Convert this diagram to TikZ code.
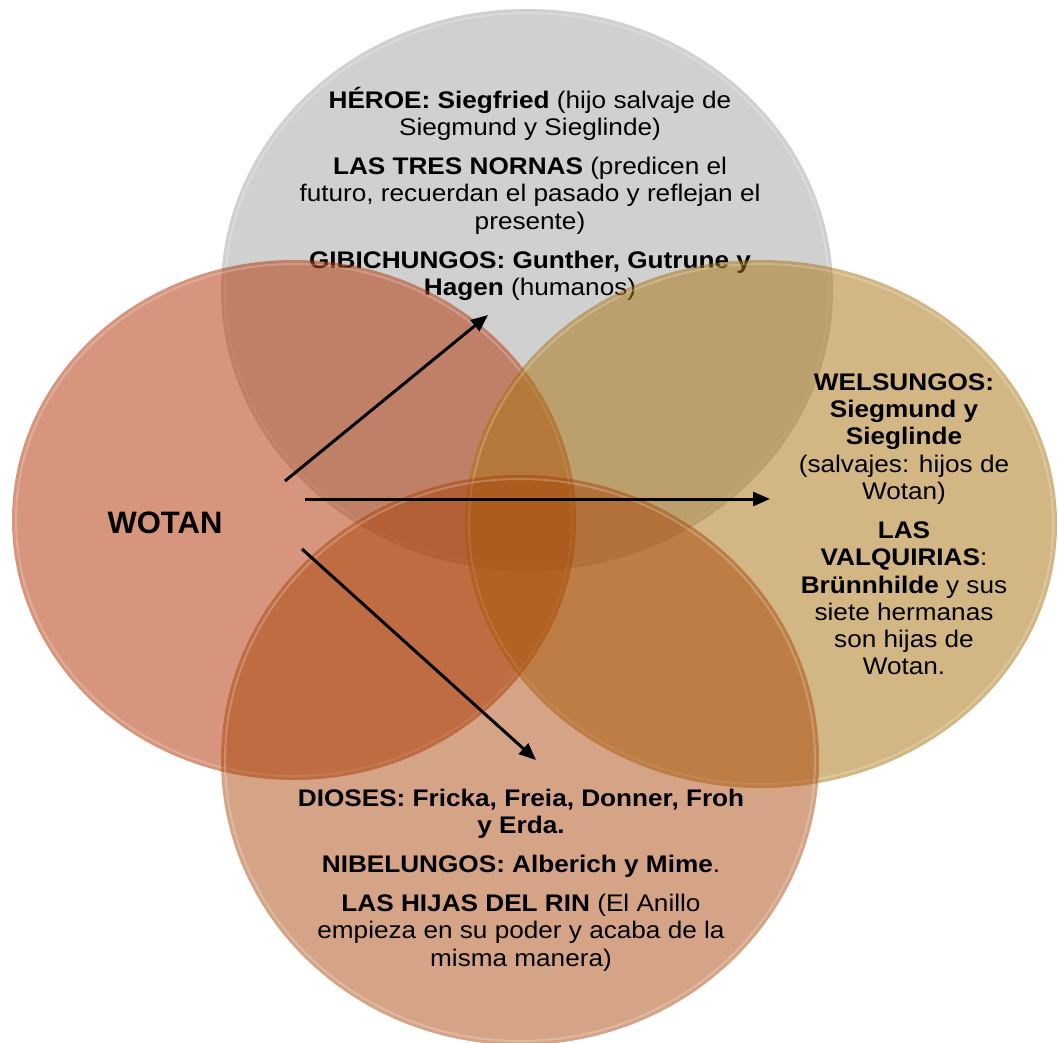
\documentclass[tikz,border=0pt]{standalone}
\usepackage{fontspec}
\setmainfont[FakeStretch=1.09]{Liberation Sans}
\newfontfamily\wotanfont{Liberation Sans}
\usetikzlibrary{arrows.meta}

% fill colours of the four sets (used with transparency)
\definecolor{normasgray}{RGB}{208,208,208}
\definecolor{wotanred}{RGB}{180,62,17}
\definecolor{welsgold}{RGB}{168,115,17}
\definecolor{diosbrown}{RGB}{166,62,0}

\begin{document}
\begin{tikzpicture}[x=1pt,y=-1pt,
  venntext/.style={align=center, inner sep=0pt, anchor=north, text=black,
                   font=\fontsize{24}{27.3}\selectfont},
  rim/.style={draw=white, draw opacity=.22, line width=2pt},
  link/.style={draw=black, line width=3pt, -{Triangle[length=17pt,width=14pt]}}]

\useasboundingbox (0,0) rectangle (1058,1043);

% --- upper set: heroes, norns, Gibichungs
\fill[normasgray] (527,290) ellipse [x radius=306, y radius=281];
\draw[rim] (527,290) ellipse [x radius=302, y radius=277];
\node[venntext] (heroe) at (530,84) {\rule{0pt}{24pt}\textbf{HÉROE: Siegfried} (hijo salvaje de\\
  Siegmund y Sieglinde)\\[11.7pt]
  \textbf{LAS TRES NORNAS} (predicen el\\
  futuro, recuerdan el pasado y reflejan el\\
  presente)\\[11.7pt]
  \textbf{GIBICHUNGOS: Gunther, Gutrune y}\\
  \textbf{Hagen} (humanos)};

% --- left set: Wotan
\fill[wotanred, fill opacity=.55] (294,520) ellipse [x radius=282, y radius=260];
\draw[rim] (294,520) ellipse [x radius=278, y radius=256];
\node[inner sep=0pt, font=\wotanfont\fontsize{31}{34}\selectfont\bfseries] (wotan) at (165,523) {WOTAN};

% --- right set: Volsungs and Valkyries
\fill[welsgold, fill opacity=.52] (761,524) ellipse [x radius=296, y radius=264];
\draw[rim] (761,524) ellipse [x radius=292, y radius=260];
\node[venntext] (welsungos) at (904,366) {\rule{0pt}{24pt}\textbf{WELSUNGOS:}\\
  \textbf{Siegmund y}\\
  \textbf{Sieglinde}\\
  (salvajes: hijos de\\
  Wotan)\\[11.7pt]
  \textbf{LAS}\\
  \textbf{VALQUIRIAS}:\\
  \textbf{Brünnhilde} y sus\\
  siete hermanas\\
  son hijas de\\
  Wotan.};

% --- lower set: gods, Nibelungs, Rhinemaidens
\fill[diosbrown, fill opacity=.47] (520,760) ellipse [x radius=299, y radius=285];
\draw[rim] (520,760) ellipse [x radius=295, y radius=281];
\node[venntext] (dioses) at (521,782) {\rule{0pt}{24pt}\textbf{DIOSES: Fricka, Freia, Donner, Froh}\\
  \textbf{y Erda.}\\[11.7pt]
  \textbf{NIBELUNGOS: Alberich y Mime}.\\[11.7pt]
  \textbf{LAS HIJAS DEL RIN} (El Anillo\\
  empieza en su poder y acaba de la\\
  misma manera)};

% --- arrows leaving Wotan
\coordinate (upstart) at (285,481);
\coordinate (upend) at (488,315);
\coordinate (midstart) at (305,499);
\coordinate (midend) at (770,499);
\coordinate (lowstart) at (302,549);
\coordinate (lowend) at (536,760);
\draw[link] (upstart) -- (upend);
\draw[link] (midstart) -- (midend);
\draw[link] (lowstart) -- (lowend);
\end{tikzpicture}
\end{document}
